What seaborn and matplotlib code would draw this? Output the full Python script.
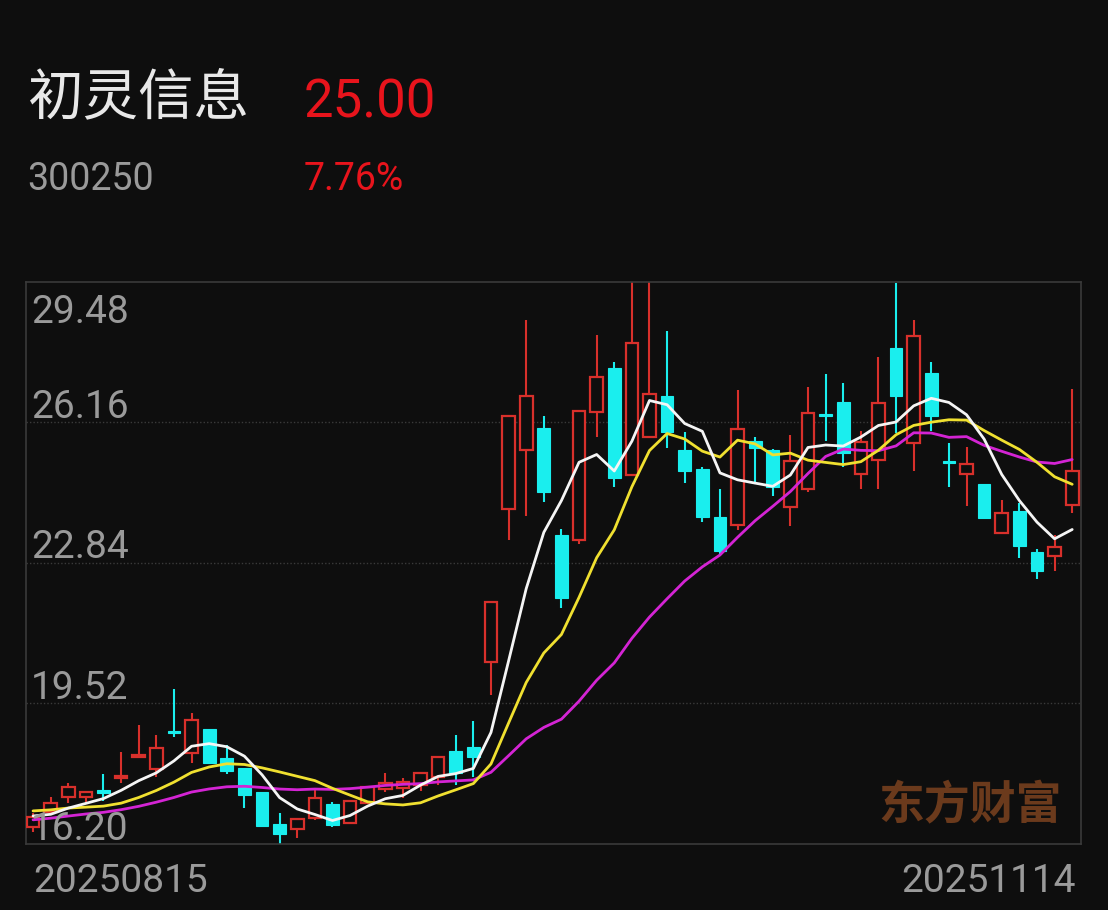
import matplotlib
matplotlib.use("Agg")
import matplotlib.pyplot as plt
import seaborn as sns
import pandas as pd
import numpy as np

# stock header
name = "初灵信息"
code = "300250"
last_price = "25.00"
pct_change = "7.76%"
first_date = "20250815"
last_date = "20251114"

# daily candles 20250815 .. 20251114
opens = [16.59, 16.95, 17.29, 17.29, 17.46, 17.75, 18.24, 17.95, 18.84, 18.33,
         18.90, 18.21, 17.99, 17.42, 16.66, 16.55, 16.81, 17.13, 16.68, 17.15,
         17.48, 17.50, 17.58, 17.78, 18.39, 18.47, 20.50, 24.10, 25.51, 26.01,
         23.49, 23.37, 26.40, 27.43, 24.91, 25.81, 26.78, 25.50, 25.04, 23.92,
         23.73, 25.72, 25.50, 24.14, 24.57, 26.31, 26.63, 24.93, 25.26, 27.90,
         25.66, 27.31, 25.22, 24.93, 24.69, 23.53, 24.06, 23.08, 22.99, 24.20]
highs = [16.92, 17.31, 17.62, 17.41, 17.84, 18.37, 19.00, 18.76, 19.85, 19.28,
         18.90, 18.53, 17.99, 17.42, 16.91, 16.77, 17.46, 17.19, 17.21, 17.53,
         17.87, 17.74, 17.90, 18.26, 18.76, 19.09, 21.91, 26.31, 28.57, 26.30,
         23.62, 26.43, 28.22, 27.58, 29.48, 29.48, 28.31, 25.92, 25.10, 24.57,
         26.92, 25.80, 25.52, 25.85, 26.98, 27.29, 27.07, 25.95, 27.69, 29.44,
         28.57, 27.57, 25.66, 25.58, 24.69, 24.32, 24.24, 23.15, 23.49, 26.94]
lows = [16.47, 16.91, 17.15, 17.17, 17.21, 17.62, 18.22, 17.78, 18.72, 18.11,
        18.08, 17.84, 17.03, 16.60, 16.20, 16.32, 16.76, 16.60, 16.66, 17.15,
        17.42, 17.27, 17.45, 17.58, 17.58, 17.78, 19.71, 23.37, 23.94, 24.28,
        21.76, 23.27, 25.81, 24.63, 24.91, 25.81, 25.55, 24.71, 23.80, 23.04,
        23.61, 24.71, 24.41, 23.70, 24.51, 25.72, 25.09, 24.57, 24.57, 25.89,
        25.01, 25.95, 24.63, 24.18, 23.90, 23.53, 22.94, 22.44, 22.65, 24.02]
closes = [16.83, 17.15, 17.53, 17.41, 17.39, 17.80, 18.29, 18.46, 18.82, 19.12,
          18.11, 17.92, 17.35, 16.62, 16.42, 16.77, 17.27, 16.64, 17.21, 17.53,
          17.64, 17.66, 17.86, 18.24, 17.86, 18.25, 21.91, 26.31, 26.78, 24.51,
          22.01, 26.43, 27.23, 24.83, 28.03, 26.82, 25.93, 25.01, 23.91, 23.12,
          26.00, 25.54, 24.63, 25.25, 26.37, 26.29, 25.42, 25.69, 26.62, 26.78,
          28.20, 26.31, 25.20, 25.17, 23.90, 24.02, 23.23, 22.65, 23.20, 25.00]
# closes before the window, estimated from where the MA lines start
prior_closes = [16.40, 16.50, 16.45, 16.60, 16.55, 16.70, 16.50, 16.60, 16.55, 16.65,
                16.90, 17.10, 17.20, 17.15, 17.10, 16.95, 16.80, 16.85, 16.82]
y_ticks = [29.48, 26.16, 22.84, 19.52, 16.20]

bg = "#0e0e0e"
red = "#d8302b"
cyan = "#1aeeee"
gray = "#9a9a9a"

sns.set_style("dark")
plt.rcParams["font.family"] = ["Roboto", "Noto Sans CJK SC", "DejaVu Sans"]

df = pd.DataFrame({"i": np.arange(len(closes)), "open": opens, "high": highs,
                   "low": lows, "close": closes})
all_close = pd.Series(prior_closes + closes)
for n in (5, 10, 20):
    df["ma%d" % n] = all_close.rolling(n).mean().iloc[len(prior_closes):].values

W, H = 1108, 910
fig = plt.figure(figsize=(W / 100, H / 100), dpi=100, facecolor=bg)
ax = fig.add_axes([26 / W, 1 - 843.5 / H, (1081 - 26) / W, (843.5 - 281.5) / H])
ax.set_facecolor(bg)

# candles
up = df[df.close >= df.open]
dn = df[df.close < df.open]
body_w = 0.72
# wicks for hollow red candles: outside the body only
ax.vlines(up.i, up.close, up.high, color=red, lw=1.5, zorder=2)
ax.vlines(up.i, up.low, up.open, color=red, lw=1.5, zorder=2)
ax.bar(up.i, np.maximum(up.close - up.open, 0.03), bottom=up.open, width=body_w,
       facecolor=bg, edgecolor=red, linewidth=1.6, zorder=3)
ax.vlines(dn.i, dn.low, dn.high, color=cyan, lw=1.5, zorder=2)
ax.bar(dn.i, np.maximum(dn.open - dn.close, 0.05), bottom=dn.close, width=body_w,
       facecolor=cyan, edgecolor=cyan, linewidth=0.8, zorder=3)

# moving averages
sns.lineplot(data=df, x="i", y="ma20", color="#d424d4", lw=2.0, ax=ax, zorder=4)
sns.lineplot(data=df, x="i", y="ma10", color="#f0e030", lw=2.0, ax=ax, zorder=4)
sns.lineplot(data=df, x="i", y="ma5", color="#f5f5f5", lw=2.0, ax=ax, zorder=4)

ax.set_xlim(-0.4, 59.5)
ax.set_ylim(y_ticks[-1], y_ticks[0])
ax.set_xticks([])
ax.set_yticks([])
ax.set_xlabel("")
ax.set_ylabel("")
ax.grid(False)
for s in ax.spines.values():
    s.set_visible(True)
    s.set_color("#3a3a3a")
    s.set_linewidth(1.2)

for v in y_ticks[1:-1]:
    ax.axhline(v, color="#3a3a3a", lw=1.0, ls=(0, (1, 1.5)), zorder=1)

# price labels inside the plot
for v in y_ticks:
    dy = -41 if v == y_ticks[0] else 4
    ax.annotate("%.2f" % v, xy=(0, v), xycoords=("axes fraction", "data"),
                xytext=(5, dy), textcoords="offset pixels", va="baseline",
                ha="left", color=gray, fontsize=28, zorder=5)

# watermark
fig.text(878 / W, 1 - 806 / H, "东方财富", color="#6b3a1c", fontsize=33,
         fontweight="bold", family=["Noto Sans CJK SC"], va="center", ha="left")

# header
fig.text(27 / W, 1 - 99 / H, name, color="#e8e8e8", fontsize=40,
         family=["Noto Sans CJK SC"], va="center", ha="left")
fig.text(304 / W, 1 - 117 / H, last_price, color="#e8141c", fontsize=38,
         va="baseline", ha="left")
fig.text(27 / W, 1 - 190 / H, code, color=gray, fontsize=27, va="baseline", ha="left")
fig.text(304 / W, 1 - 190 / H, pct_change, color="#e8141c", fontsize=27,
         va="baseline", ha="left")

# date labels
fig.text(33 / W, 1 - 892 / H, first_date, color=gray, fontsize=28, va="baseline", ha="left")
fig.text(1076 / W, 1 - 892 / H, last_date, color=gray, fontsize=28, va="baseline", ha="right")

fig.savefig("out.png", dpi=100, facecolor=bg)
